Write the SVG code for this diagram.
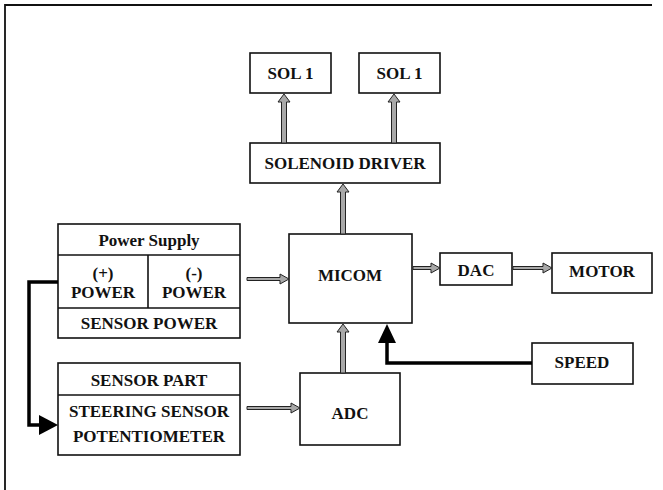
<svg xmlns="http://www.w3.org/2000/svg" width="663" height="490" viewBox="0 0 663 490">
<style>
.box{fill:#fff;stroke:#111;stroke-width:1.6}
.t{font-family:"Liberation Serif","Times New Roman","DejaVu Serif",serif;font-weight:bold;font-size:17px;fill:#111;text-anchor:middle}
.ga{fill:#a8a8a8;stroke:#222;stroke-width:1}
.bk{fill:none;stroke:#000;stroke-width:3.5}
</style>
<rect width="663" height="490" fill="#fff"/>
<path d="M5,490 V5 H652" fill="none" stroke="#111" stroke-width="1.8"/>
<g id="sol1a"><rect class="box" x="250" y="53" width="81" height="40"/><text class="t" x="290.5" y="79">SOL 1</text></g>
<g id="sol1b"><rect class="box" x="359" y="53" width="81" height="40"/><text class="t" x="399.5" y="79">SOL 1</text></g>
<g id="soldrv"><rect class="box" x="250" y="143" width="190" height="40"/><text class="t" x="345" y="169">SOLENOID DRIVER</text></g>
<g id="power">
<rect class="box" x="58" y="224" width="182" height="114"/>
<line class="box" x1="58" y1="255" x2="240" y2="255"/>
<line class="box" x1="58" y1="308" x2="240" y2="308"/>
<line class="box" x1="148" y1="255" x2="148" y2="308"/>
<text class="t" x="149" y="246">Power Supply</text>
<text class="t" x="103" y="279">(+)</text><text class="t" x="103" y="298">POWER</text>
<text class="t" x="194" y="279">(-)</text><text class="t" x="194" y="298">POWER</text>
<text class="t" x="149" y="329">SENSOR POWER</text>
</g>
<g id="micom"><rect class="box" x="289" y="234" width="123" height="89"/><text class="t" x="350" y="281">MICOM</text></g>
<g id="dac"><rect class="box" x="440" y="253" width="72" height="32"/><text class="t" x="476" y="276">DAC</text></g>
<g id="motor"><rect class="box" x="552" y="253" width="100" height="40"/><text class="t" x="602" y="277">MOTOR</text></g>
<g id="speed"><rect class="box" x="532" y="343" width="101" height="41"/><text class="t" x="582" y="368">SPEED</text></g>
<g id="sensor">
<rect class="box" x="58" y="363" width="182" height="92"/>
<line class="box" x1="58" y1="395" x2="240" y2="395"/>
<text class="t" x="149" y="386">SENSOR PART</text>
<text class="t" x="149" y="417">STEERING SENSOR</text>
<text class="t" x="149" y="442">POTENTIOMETER</text>
</g>
<g id="adc"><rect class="box" x="300" y="373" width="100" height="72"/><text class="t" x="350" y="419">ADC</text></g>
<g id="connectors">
<path class="ga" d="M281.5,143 V102 H278 L284,94 L290,102 H286.5 V143 Z"/>
<path class="ga" d="M391.5,143 V102 H388 L394,94 L400,102 H396.5 V143 Z"/>
<path class="ga" d="M340.5,234 V192 H337 L343,184 L349,192 H345.5 V234 Z"/>
<path class="ga" d="M340.5,373 V332 H337 L343,324 L349,332 H345.5 V373 Z"/>
<path class="ga" d="M247,277.5 H280 V274 L289,279 L280,284 V280.5 H247 Z"/>
<path class="ga" d="M413,266.5 H431 V263 L440,268 L431,273 V269.5 H413 Z"/>
<path class="ga" d="M513,266.5 H543 V263 L552,268 L543,273 V269.5 H513 Z"/>
<path class="ga" d="M247,406.5 H291 V403 L300,408 L291,413 V409.5 H247 Z"/>
<path class="bk" d="M532,363 H387 V340"/>
<polygon points="387,324 378,343 396,343" fill="#000"/>
<path class="bk" d="M58,282 H29 V425 H44"/>
<polygon points="58,425 39,415 39,435" fill="#000"/>
</g>
</svg>
